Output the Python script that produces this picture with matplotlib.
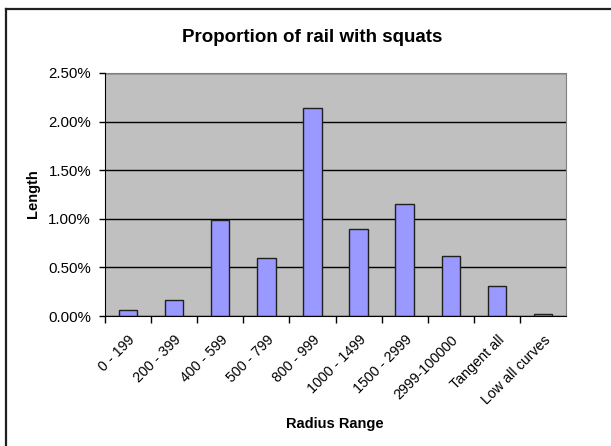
import numpy as np
import matplotlib.pyplot as plt
import matplotlib.transforms as mtransforms
from matplotlib.ticker import PercentFormatter
from matplotlib.lines import Line2D

plt.rcParams['font.family'] = ['Liberation Sans', 'DejaVu Sans']

categories = ['0 - 199', '200 - 399', '400 - 599', '500 - 799', '800 - 999',
              '1000 - 1499', '1500 - 2999', '2999-100000', 'Tangent all',
              'Low all curves']
values = [0.06, 0.165, 0.99, 0.60, 2.14, 0.89, 1.15, 0.62, 0.305, 0.02]

W, H = 611, 446
fig = plt.figure(figsize=(W / 100, H / 100), dpi=100)
ax = fig.add_axes([105 / W, 1 - 316 / H, 461 / W, 243 / H])
ax.set_facecolor('#C0C0C0')

x = np.arange(len(categories))
ax.bar(x + 0.5, values, width=0.4, color='#9999FF', edgecolor='#202020',
       linewidth=1.0, zorder=3)

ax.set_xlim(0, len(categories))
ax.set_ylim(0, 2.5)
ax.set_yticks(np.arange(0, 2.51, 0.5))
ax.yaxis.set_major_formatter(PercentFormatter(decimals=2))
ax.set_xticks(x)
ax.set_xticklabels([])
ax.set_xticks(x + 0.5, minor=True)
ax.set_xticklabels(categories, minor=True, rotation=45, ha='right',
                   rotation_mode='anchor', fontsize=10.3)
shift = mtransforms.ScaledTranslation(-5 / 100, 0, fig.dpi_scale_trans)
for lab in ax.get_xticklabels(minor=True):
    lab.set_transform(lab.get_transform() + shift)
ax.tick_params(axis='x', which='minor', length=0, pad=12)
ax.tick_params(axis='x', which='major', length=5, width=1, color='black')
ax.tick_params(axis='y', length=4, width=1, pad=6, labelsize=10.8, color='black')
ax.grid(axis='y', color='black', linewidth=1, zorder=1)

for side in ['top', 'right']:
    ax.spines[side].set_color('#808080')
for side in ['left', 'bottom']:
    ax.spines[side].set_color('black')
    ax.spines[side].set_zorder(4)

fig.text(312 / W, 1 - 37 / H, 'Proportion of rail with squats', fontsize=13.5,
         fontweight='bold', ha='center', va='center')
fig.text(33 / W, 1 - 194 / H, 'Length', fontsize=10.5, fontweight='bold',
         rotation=90, ha='center', va='center')
fig.text(335 / W, 1 - 424 / H, 'Radius Range', fontsize=10.5, fontweight='bold',
         ha='center', va='center')

# chart-area frame (only top and left edges fall inside the image)
fig.lines.append(Line2D([6 / W, 1], [1 - 9 / H, 1 - 9 / H], transform=fig.transFigure,
                        color='#202020', linewidth=1.6))
fig.lines.append(Line2D([6 / W, 6 / W], [0, 1 - 9 / H], transform=fig.transFigure,
                        color='#202020', linewidth=1.6))

fig.savefig('out.png', dpi=100)
